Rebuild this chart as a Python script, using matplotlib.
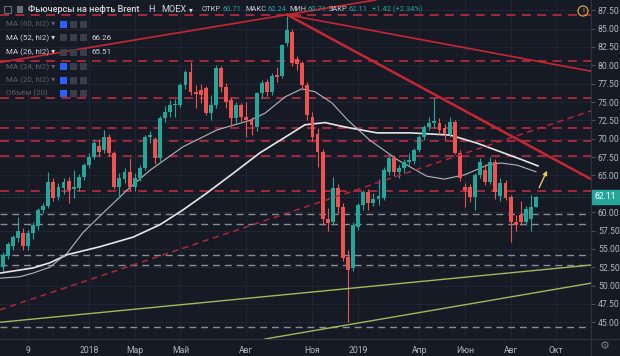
import matplotlib
matplotlib.use('Agg')
import matplotlib.pyplot as plt
import matplotlib.transforms as mtransforms
from matplotlib.patches import Rectangle, Ellipse, FancyArrowPatch
from matplotlib.lines import Line2D
import numpy as np

plt.rcParams['font.family'] = ['Roboto', 'DejaVu Sans']

# weekly candles, Brent futures (MOEX), starting week of 2017-09-04
opens = [52.5, 54.0, 55.4, 56.5, 57.2, 55.4, 57.1, 58.1, 60.3, 60.9,
         64.1, 62.0, 63.3, 64.3, 63.1, 63.3, 64.8, 66.4, 67.5, 69.0,
         68.4, 70.2, 68.0, 63.4, 64.5, 65.5, 63.4, 64.7, 66.0, 70.2,
         69.9, 67.4, 72.8, 73.7, 74.6, 74.6, 77.3, 79.1, 76.4, 76.6,
         76.9, 73.5, 74.6, 79.6, 77.0, 75.3, 72.8, 74.6, 73.0, 72.5,
         71.6, 76.2, 77.7, 76.4, 78.7, 78.6, 83.0, 84.5, 80.8, 80.3,
         77.3, 72.9, 70.7, 68.2, 59.0, 58.6, 63.3, 60.7, 53.9, 52.4,
         58.0, 61.0, 62.7, 61.2, 61.8, 61.9, 65.5, 67.4, 65.5, 66.0,
         66.8, 67.0, 68.5, 70.2, 71.6, 72.1, 72.2, 71.4, 70.7, 72.3,
         68.0, 63.4, 63.4, 62.0, 65.0, 65.7, 64.1, 66.8, 62.2, 64.0,
         62.0, 58.6, 59.6, 58.6, 59.0, 60.71]
highs = [54.6, 55.9, 56.9, 59.3, 57.8, 57.6, 58.6, 60.6, 61.3, 65.5,
         64.7, 64.0, 64.6, 64.8, 65.7, 65.2, 66.7, 68.1, 70.0, 70.0,
         71.2, 70.7, 68.3, 65.3, 66.0, 67.4, 65.3, 66.4, 70.5, 71.0,
         70.3, 73.1, 74.5, 75.3, 75.4, 77.6, 79.4, 80.5, 77.3, 77.4,
         77.2, 75.9, 80.0, 79.9, 77.6, 75.7, 75.0, 74.9, 75.0, 72.9,
         76.4, 78.0, 78.2, 78.9, 79.8, 82.9, 86.7, 85.0, 81.3, 80.6,
         77.7, 73.6, 71.4, 68.6, 60.5, 64.8, 63.8, 61.2, 54.8, 58.6,
         61.3, 63.0, 63.1, 62.6, 64.5, 66.1, 67.7, 67.8, 66.4, 67.3,
         68.0, 68.8, 70.5, 71.9, 73.0, 75.6, 72.8, 72.0, 72.9, 72.6,
         68.4, 64.0, 63.9, 65.4, 67.4, 66.5, 67.5, 67.2, 64.6, 64.4,
         62.3, 59.6, 61.5, 60.8, 62.3, 62.24]
lows = [52.0, 53.6, 54.9, 55.9, 54.9, 54.8, 56.4, 57.6, 59.9, 60.5,
        61.5, 61.6, 62.5, 61.2, 61.9, 62.9, 64.4, 66.0, 67.2, 67.6,
        68.1, 67.6, 63.1, 61.9, 64.0, 63.0, 62.9, 64.2, 65.7, 69.4,
        66.6, 67.0, 72.3, 73.0, 72.9, 74.3, 76.8, 76.0, 74.2, 74.9,
        73.2, 72.5, 74.2, 76.4, 74.2, 71.8, 72.0, 72.3, 70.3, 70.5,
        71.1, 75.5, 75.8, 75.9, 77.7, 78.3, 82.6, 79.9, 79.3, 76.6,
        72.6, 69.7, 66.1, 58.3, 57.4, 58.3, 59.8, 53.4, 45.0, 52.0,
        57.6, 60.3, 60.3, 60.9, 61.0, 61.6, 65.0, 64.9, 64.6, 65.4,
        66.3, 66.5, 68.2, 69.8, 71.2, 71.5, 70.6, 69.8, 70.2, 67.9,
        64.3, 60.7, 61.4, 60.3, 64.6, 63.7, 63.9, 61.8, 61.5, 61.6,
        55.9, 57.4, 58.2, 58.2, 57.5, 60.71]
closes = [54.2, 55.6, 56.6, 57.4, 55.4, 57.1, 58.2, 60.3, 60.9, 64.1,
          61.9, 63.4, 64.1, 63.0, 63.4, 64.8, 66.4, 67.5, 69.4, 68.2,
          70.2, 68.0, 63.4, 64.7, 65.5, 63.4, 64.7, 66.0, 70.2, 70.5,
          67.4, 72.8, 73.7, 74.6, 74.8, 77.3, 79.1, 76.4, 76.1, 76.0,
          73.5, 74.6, 79.6, 77.0, 75.0, 72.8, 74.6, 73.0, 72.6, 71.9,
          76.2, 77.6, 76.4, 78.5, 78.4, 82.8, 84.8, 80.3, 80.2, 77.3,
          73.2, 70.2, 68.2, 59.0, 58.5, 63.3, 60.7, 53.7, 52.1, 58.3,
          61.0, 62.7, 61.2, 61.8, 62.2, 65.7, 67.4, 65.5, 66.0, 66.8,
          67.1, 68.5, 70.2, 71.6, 72.2, 72.4, 71.2, 70.7, 72.3, 68.0,
          64.6, 63.0, 62.0, 65.0, 66.8, 64.1, 66.8, 62.7, 64.0, 61.9,
          58.6, 58.3, 58.7, 60.4, 60.69, 62.11]

# moving averages (bar index, price)
ma52_x = [-0.5, 6.0, 9.3, 12.7, 19.2, 25.7, 31.0, 35.5, 40.2, 45.4, 50.7,
          55.6, 59.5, 63.5, 67.4, 73.7, 80.2, 88.1, 93.4, 98.5, 102.4, 105.4]
ma52_y = [51.7, 52.4, 53.1, 54.2, 55.3, 56.6, 58.3, 60.3, 62.6, 65.3, 68.1,
          70.2, 71.9, 72.2, 71.6, 70.8, 70.8, 70.5, 69.4, 68.1, 67.1, 66.3]
ma26_x = [-0.5, 3.4, 6.0, 9.3, 12.7, 15.8, 19.8, 24.5, 29.0, 35.5, 42.2,
          48.7, 51.7, 55.6, 58.9, 61.5, 64.8, 68.0, 72.3, 77.8, 83.5, 87.0,
          91.0, 95.4, 98.0, 101.3, 105.0]
ma26_y = [51.0, 51.2, 51.7, 52.5, 54.4, 57.2, 59.9, 63.0, 65.7, 68.9, 71.2,
          72.5, 73.5, 75.7, 76.8, 76.4, 74.9, 72.5, 69.8, 67.1, 64.9, 64.5,
          65.1, 66.4, 66.7, 66.4, 65.5]

# drawn levels
red_levels = [86.9, 80.6, 75.5, 71.4, 69.7, 67.7, 62.9]
grey_levels = [59.8, 58.4, 54.2, 52.8, 44.4]

price_ticks = np.arange(45, 88.6, 2.5)
tick_pos = [5, 17, 26, 35, 48, 61, 70, 82, 91, 100, 109]
tick_labels = ['9', '2018', 'Мар', 'Май', 'Авг', 'Ноя', '2019', 'Апр', 'Июн', 'Авг', 'Окт']

BG = '#161a25'
UP = '#26a69a'
DOWN = '#ef5350'
TXT = '#b2b5be'
SEP = '#2f3341'

W, H = 620, 356
def fx(px):
    return px / W
def fy(py):
    return 1 - py / H

fig = plt.figure(figsize=(6.2, 3.56), dpi=100)
fig.patch.set_facecolor(BG)
ax = fig.add_axes([0, 17 / H, 591 / W, 339 / H])
ax.set_facecolor(BG)
ax.set_xlim(-0.51, 115.83)
ax.set_ylim(42.72, 88.90)

# axes, grid; the 62.50 label sits under the last-price box
ax.set_yticks(price_ticks)
ax.set_yticklabels(['' if abs(p - 62.5) < 0.01 else '%.2f' % p for p in price_ticks])
ax.yaxis.tick_right()
ax.set_xticks(tick_pos)
ax.set_xticklabels(tick_labels)
ax.grid(color='#222634', lw=0.7)
ax.set_axisbelow(True)
ax.tick_params(axis='y', length=3, color='#4a4f5c', labelsize=6.2, labelcolor=TXT, pad=2)
ax.tick_params(axis='x', length=0, labelsize=6.2, labelcolor=TXT, pad=5)
for s in ax.spines.values():
    s.set_visible(False)

# horizontal levels
for lv in red_levels:
    ax.axhline(lv, color='#b02a3e', lw=1.3, dashes=(5, 3.5), zorder=1)
for lv in grey_levels:
    ax.axhline(lv, color='#8a8d96', lw=1.0, dashes=(5, 3.5), zorder=1)

# moving averages
ax.plot(ma52_x, ma52_y, color='#e6e6e6', lw=1.2, zorder=2)
ax.plot(ma26_x, ma26_y, color='#b4b6bb', lw=0.8, zorder=2)

# candles
o = np.array(opens); h = np.array(highs); l = np.array(lows); c = np.array(closes)
x = np.arange(len(c))
cols = np.where(c >= o, UP, DOWN)
ax.vlines(x, l, h, colors=cols, lw=0.8, zorder=3)
ax.bar(x, np.maximum(np.abs(c - o), 0.1), bottom=np.minimum(o, c), width=0.76,
       color=cols, linewidth=0, zorder=3)

# trend lines
ax.axline((-0.51, 80.4), (56.0, 86.9), color='#c62832', lw=1.2, zorder=4)
ax.plot([56.0, 115.83], [86.9, 79.2], color='#c62832', lw=1.2, zorder=4)
ax.plot([56.0, 115.83], [86.9, 64.5], color='#c62832', lw=1.8, zorder=4)
ax.axline((-0.51, 46.7), (115.83, 73.8), color='#b3263a', lw=1.1, dashes=(4, 3), zorder=4)
ax.axline((-0.51, 45.0), (115.83, 52.8), color='#9dbb5c', lw=1.0, zorder=4)
ax.axline((48.1, 42.3), (115.6, 50.3), color='#9dbb5c', lw=1.0, zorder=4)

# last price line and arrow
ax.axhline(closes[-1], color=UP, lw=0.6, ls=(0, (1, 2)), alpha=0.6, zorder=2)
ax.add_patch(FancyArrowPatch((105.4, 63.0), (107.4, 66.0), arrowstyle='-|>',
                             mutation_scale=6, color='#e8c85a', lw=1.0, zorder=5))

# price label box
trans = mtransforms.blended_transform_factory(ax.transAxes, ax.transData)
ax.text(1.006, closes[-1], '%.2f' % closes[-1], transform=trans, ha='left', va='center',
        fontsize=6.2, color='white', clip_on=False, zorder=10,
        bbox=dict(boxstyle='square,pad=0.3', fc=UP, ec=UP))

# separators
fig.add_artist(Line2D([fx(591), fx(591)], [0, 1], color=SEP, lw=0.8))
fig.add_artist(Line2D([0, 1], [fy(339), fy(339)], color=SEP, lw=0.8))

# header
renderer = fig.canvas.get_renderer()
hy = fy(9.5)
fig.add_artist(Rectangle((fx(4), fy(13)), 7 / W, 7 / H, fill=False, ec='#6a6d78', lw=0.8))
fig.add_artist(Rectangle((fx(17), fy(13)), 6 / W, 7 / H, fc='#6a6d78', ec='none'))
fig.text(fx(28), hy, 'Фьючерсы на нефть Brent', fontsize=6.6, color='#d1d4dc', va='center',
         fontweight='medium')
fig.text(fx(148), hy, 'Н', fontsize=6.6, color='#d1d4dc', va='center')
t = fig.text(fx(161), hy, 'MOEX', fontsize=6.6, color='#d1d4dc', va='center')
bb = t.get_window_extent(renderer)
fig.text(fx(bb.x1 + 3), hy, '▾', fontsize=5.5, color='#d1d4dc', va='center', family='DejaVu Sans')
for lab, lx, val in [('ОТКР', 202, '60.71'), ('МАКС', 245, '62.24'),
                     ('МИН', 289, '60.71'), ('ЗАКР', 329, '62.11')]:
    t = fig.text(fx(lx), hy, lab, fontsize=5.4, color='#c9ccd4', va='center')
    bb = t.get_window_extent(renderer)
    fig.text(fx(bb.x1 + 1), hy, val, fontsize=5.4, color=UP, va='center')
fig.text(fx(372), hy, '+1.42 (+2.34%)', fontsize=5.4, color=UP, va='center')

# indicator legend
rows = [('MA (60, hl2)', False, None), ('MA (52, hl2)', True, '66.26'),
        ('MA (26, hl2)', True, '65.51'), ('MA (24, hl2)', False, None),
        ('MA (20, hl2)', False, None), ('Объём (20)', False, None)]
row_y = [24, 37.7, 52.3, 66.7, 80, 93.3]
for k, (name, vis, val) in enumerate(rows):
    ry = row_y[k]
    col = '#d1d4dc' if vis else '#5d606b'
    fig.text(fx(6), fy(ry), name + ' ▾' if k < 5 else name, fontsize=5.8, color=col, va='center')
    for j, bx in enumerate([60, 70, 80]):
        fc = '#2962ff' if (j == 0 and not vis) else '#3a3e4a'
        fig.add_artist(Rectangle((fx(bx), fy(ry + 3.5)), 7 / W, 7 / H, fc=fc, ec='none'))
    if val:
        fig.text(fx(92), fy(ry), val, fontsize=5.8, color='#d1d4dc', va='center')

# icons
fig.add_artist(Ellipse((fx(583), fy(11)), 10 / W, 10 / H, fill=False, ec='#d9a441', lw=0.9))
fig.text(fx(583), fy(11), '!', fontsize=5.5, color='#d9a441', ha='center', va='center')
fig.text(fx(605), fy(346), '⚙', fontsize=8, color='#787b86', ha='center', va='center',
         family='DejaVu Sans')

fig.savefig('out.png', dpi=100, facecolor=BG)
